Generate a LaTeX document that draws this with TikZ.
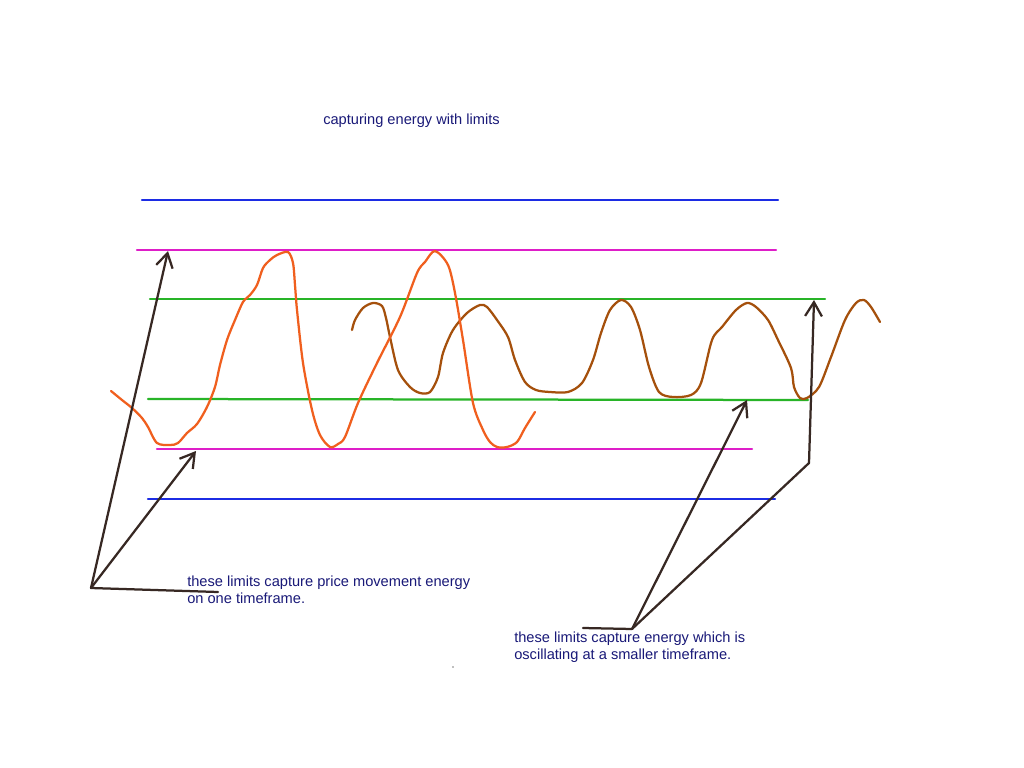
\documentclass[tikz,border=0pt]{standalone}
\usepackage{fontspec}
\setmainfont{Liberation Sans}
\usepackage{tikz}
\usetikzlibrary{arrows.meta,positioning}
\definecolor{limblue}{RGB}{28,44,228}
\definecolor{limpink}{RGB}{222,30,200}
\definecolor{limgreen}{RGB}{40,180,40}
\definecolor{waveorange}{RGB}{240,95,30}
\definecolor{wavebrown}{RGB}{165,80,12}
\definecolor{pointerbrown}{RGB}{55,40,35}
\definecolor{notenavy}{RGB}{25,25,120}
\tikzset{
  every picture/.append style={line cap=round,line join=round},
  lim blue/.style={limblue,line width=1.6pt},
  lim pink/.style={limpink,line width=1.6pt},
  lim green/.style={limgreen,line width=1.6pt},
  slow wave/.style={waveorange,line width=1.6pt},
  fast wave/.style={wavebrown,line width=1.6pt},
  lim pointer/.style={pointerbrown,line width=1.6pt,-{Straight Barb[length=3.5mm,width=4.2mm]}},
  lim leader/.style={pointerbrown,line width=1.6pt},
  lim note/.style={text=notenavy,font=\fontsize{10.4}{11.4}\selectfont,align=left,inner sep=0pt,anchor=base west}
}
\begin{document}
\begin{tikzpicture}[x=0.025cm,y=-0.025cm]
  \useasboundingbox[fill=white] (0,0) rectangle (1024,768);
  % the limits
  \draw[lim blue]  (142,200) -- (778,200);
  \draw[lim pink]  (137,250) -- (776,250);
  \draw[lim green] (150,299) -- (825,299);
  \draw[lim green] (148,399) -- (808,400);
  \draw[lim pink]  (157,449) -- (752,449);
  \draw[lim blue]  (148,499) -- (775,499);
  % fast oscillation
  \draw[fast wave] plot[smooth,tension=0.5] coordinates {
    (352,330) (355,320) (363,308) (373,303) (382,306) (386,318) (390,337)
    (398,370) (410,387) (420,393) (430,392) (438,377) (443,353) (453,330)
    (467,313) (480,305) (487,307) (497,320) (508,337) (515,360) (525,382)
    (536,390) (550,392) (568,392) (582,383) (593,360) (601,333) (610,310)
    (621,300) (631,307) (640,330) (649,367) (659,392) (673,397) (691,395)
    (701,383) (712,340) (722,327) (736,310) (747,303) (756,307) (768,320)
    (778,340) (791,368) (794,387) (800,398) (807,398) (819,387) (831,357)
    (845,320) (856,303) (864,300) (871,307) (880,322)};
  % price movement
  \draw[slow wave] plot[smooth,tension=0.5] coordinates {
    (111,391) (122,400) (132,408) (142,418) (148,427) (157,443) (170,445)
    (178,443) (187,433) (197,424) (207,407) (215,387) (220,365) (227,340)
    (235,320) (243,302) (250,295) (257,285) (263,268) (270,260) (277,255)
    (288,252) (293,263) (295,285) (297,310) (303,363) (312,410) (320,435)
    (330,447) (338,444) (345,437) (358,403) (377,363) (400,317) (417,273)
    (425,262) (435,251) (448,265) (455,293) (463,340) (473,403) (483,430)
    (490,442) (497,447) (507,447) (517,442) (525,428) (535,412)};
  % pointers
  \coordinate (pivotL) at (91,588);
  \coordinate (leaderL) at (218,592);
  \coordinate (tipLA) at (168,251);
  \coordinate (tipLB) at (196,451);
  \coordinate (pivotR) at (632,629);
  \coordinate (leaderR) at (583,628);
  \coordinate (tipRA) at (747,400);
  \coordinate (bendR) at (809,463);
  \coordinate (tipRB) at (814,300);
  \draw[lim leader] (pivotL) -- (leaderL);
  \draw[lim pointer] (pivotL) -- (tipLA);
  \draw[lim pointer] (pivotL) -- (tipLB);
  \draw[lim leader] (leaderR) -- (pivotR);
  \draw[lim pointer] (pivotR) -- (tipRA);
  \draw[lim pointer] (pivotR) -- (bendR) -- (tipRB);
  \fill[gray] (453,667) circle (0.7pt);
  % notes
  \node[lim note] (title) at (323,125) {capturing energy with limits};
  \node[lim note] (noteL) at (187,603) {these limits capture price movement energy\\on one timeframe.};
  \node[lim note] (noteR) at (514,659) {these limits capture energy which is\\oscillating at a smaller timeframe.};
\end{tikzpicture}
\end{document}
